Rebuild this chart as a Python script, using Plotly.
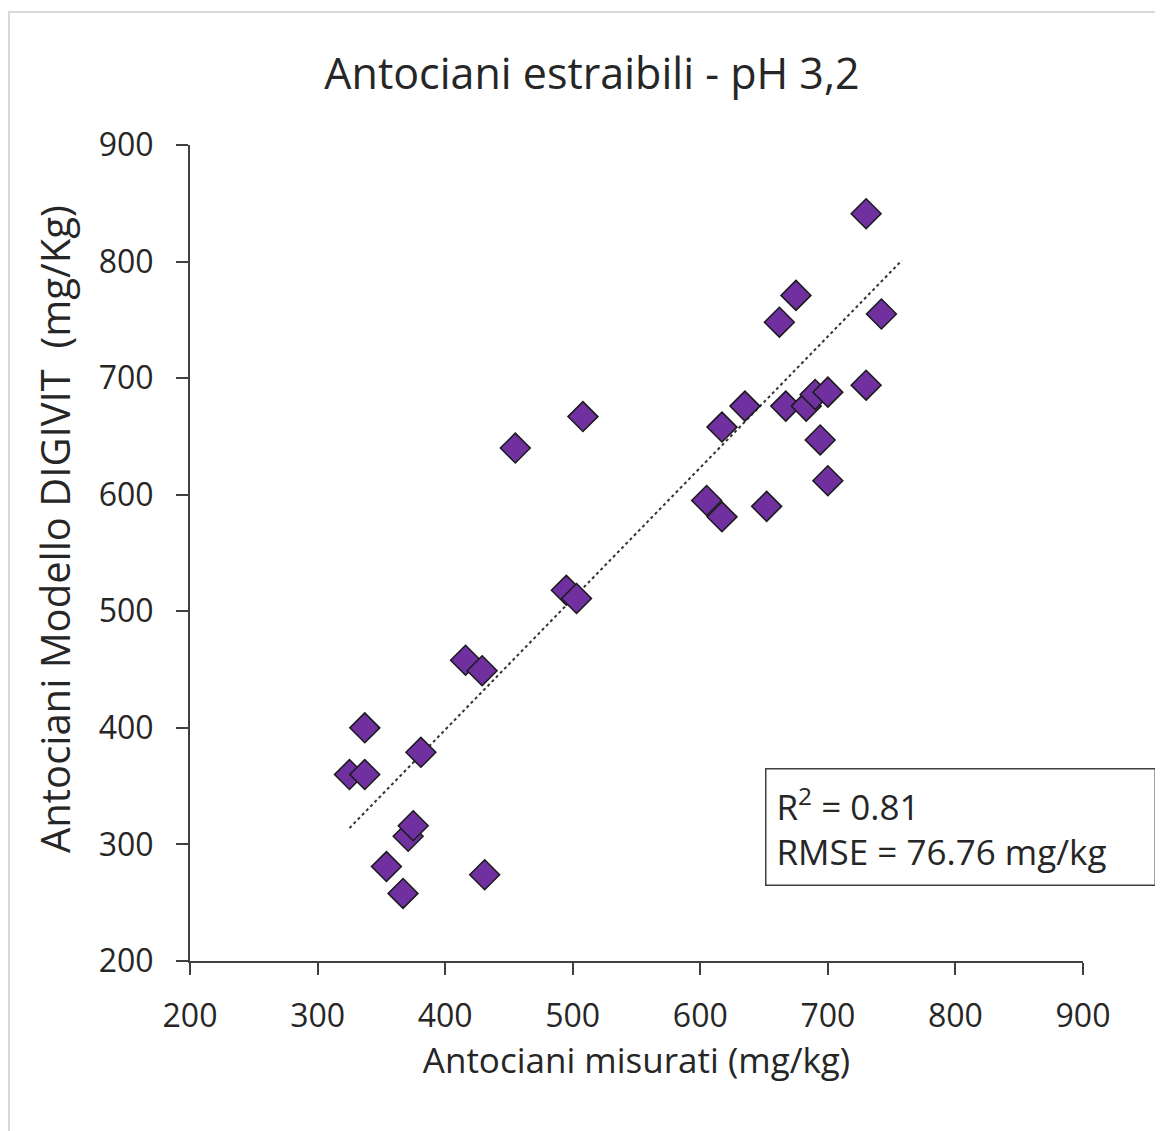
import plotly.graph_objects as go

# Measured (x) vs model (y) anthocyanins, mg/kg
measured = [325, 337, 337, 354, 367, 371, 375, 381, 416, 429, 431, 455, 495, 503, 508,
            605, 617, 617, 635, 652, 662, 667, 675, 683, 690, 694, 700, 700, 730, 730, 742]
model = [360, 360, 400, 281, 258, 307, 316, 379, 458, 449, 274, 640, 518, 511, 667,
         595, 581, 658, 676, 590, 748, 676, 771, 676, 686, 647, 612, 688, 694, 841, 755]

trend_x = [325, 758]
trend_y = [314, 801]

x_ticks = [200, 300, 400, 500, 600, 700, 800, 900]
y_ticks = [200, 300, 400, 500, 600, 700, 800, 900]

title = "Antociani estraibili - pH 3,2"
x_title = "Antociani misurati (mg/kg)"
y_title = "Antociani Modello DIGIVIT  (mg/Kg)"
stats_text = "R<sup>2</sup> = 0.81<br>RMSE = 76.76 mg/kg"

FONT = "Open Sans"
TXT = "#262626"

fig = go.Figure()
fig.add_trace(go.Scatter(
    x=trend_x, y=trend_y, mode="lines",
    line=dict(color="#333333", width=2, dash="dot"),
    hoverinfo="skip", showlegend=False))
fig.add_trace(go.Scatter(
    x=measured, y=model, mode="markers",
    marker=dict(symbol="diamond", size=23, color="#7030A0",
                line=dict(color="#1a1a1a", width=1.5)),
    showlegend=False))

axis_common = dict(
    showgrid=False, zeroline=False, showline=True, linecolor="#404040", linewidth=2,
    ticks="outside", ticklen=12, tickwidth=2, tickcolor="#404040",
    tickfont=dict(family=FONT, size=32, color=TXT),
)
fig.update_xaxes(range=[200, 900], tickvals=x_ticks, ticktext=[str(v) for v in x_ticks],
                 ticklabelstandoff=14,
                 title=dict(text=x_title, font=dict(family=FONT, size=35, color=TXT), standoff=6),
                 **axis_common)
fig.update_yaxes(range=[200, 900], tickvals=y_ticks, ticktext=[str(v) for v in y_ticks],
                 ticklabelstandoff=16,
                 **axis_common)

# y-axis title (placed as rotated text, slightly above axis centre as in reference)
fig.add_annotation(
    xref="paper", yref="paper", x=-0.1523, y=0.5294, xanchor="center", yanchor="middle",
    text=y_title, textangle=-90, showarrow=False,
    font=dict(family=FONT, size=40, color=TXT))

fig.add_annotation(
    xref="paper", yref="paper", x=0.644, y=0.2365, xanchor="left", yanchor="top",
    text=stats_text, showarrow=False, align="left", width=368, height=95,
    font=dict(family=FONT, size=35, color=TXT),
    bordercolor="#404040", borderwidth=1.5, borderpad=10, bgcolor="white")

fig.add_shape(type="rect", xref="paper", yref="paper",
              x0=-0.2027, x1=1.2, y0=-0.3, y1=1.163,
              line=dict(color="#d9d9d9", width=2), fillcolor="rgba(0,0,0,0)", layer="below")

fig.update_layout(
    width=1155, height=1123,
    margin=dict(l=182, r=80, t=137, b=170),
    paper_bgcolor="white", plot_bgcolor="white",
    title=dict(text=title, x=584 / 1155, xref="container", xanchor="center",
               y=1 - 66 / 1123, yanchor="middle",
               font=dict(family=FONT, size=43, color=TXT)),
)

fig.write_html("out.html")
